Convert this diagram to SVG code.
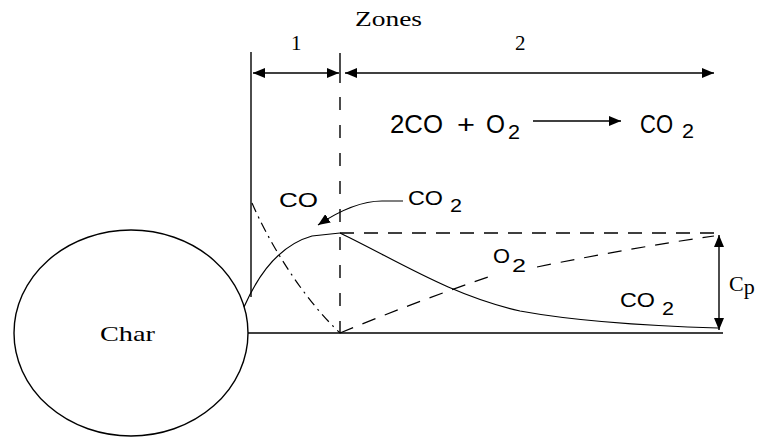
<svg xmlns="http://www.w3.org/2000/svg" width="761" height="437" viewBox="0 0 761 437">
<style>
.ln{fill:none;stroke:#000;stroke-width:1.4}
.cv{fill:none;stroke:#000;stroke-width:1.2}
.dsh{stroke-dasharray:14 10}
.serif{font-family:"Liberation Serif","Times New Roman",serif;fill:#000}
.sans{font-family:"Liberation Sans",Arial,sans-serif;fill:#000}
</style>
<defs>
<marker id="ah" viewBox="0 0 12 10" refX="12" refY="5" markerWidth="12" markerHeight="10" markerUnits="userSpaceOnUse" orient="auto-start-reverse">
<path d="M0,0 L12,5 L0,10 Z" fill="#000"/>
</marker>
</defs>
<rect width="761" height="437" fill="#fff"/>

<g id="char">
<ellipse cx="131" cy="333" rx="117" ry="103" class="ln"/>
<text class="serif" x="100" y="341" font-size="22" textLength="55" lengthAdjust="spacingAndGlyphs">Char</text>
</g>

<g id="zones">
<text class="serif" x="355" y="26" font-size="21" textLength="67" lengthAdjust="spacingAndGlyphs">Zones</text>
<text class="serif" x="291" y="50" font-size="21">1</text>
<text class="serif" x="515" y="50" font-size="21">2</text>
</g>

<g id="reaction">
<text class="sans" x="390" y="133" font-size="25" textLength="53" lengthAdjust="spacingAndGlyphs">2CO</text>
<text class="sans" x="457" y="133" font-size="25" textLength="18" lengthAdjust="spacingAndGlyphs">+</text>
<text class="sans" x="486" y="133" font-size="25" textLength="19" lengthAdjust="spacingAndGlyphs">O</text>
<text class="sans" x="508" y="139" font-size="20" textLength="12" lengthAdjust="spacingAndGlyphs">2</text>
<text class="sans" x="640" y="133" font-size="25" textLength="33" lengthAdjust="spacingAndGlyphs">CO</text>
<text class="sans" x="682" y="138" font-size="20" textLength="12" lengthAdjust="spacingAndGlyphs">2</text>
</g>

<g id="labels">
<text class="sans" x="279" y="207" font-size="21" textLength="39" lengthAdjust="spacingAndGlyphs">CO</text>
<text class="sans" x="408" y="205" font-size="21" textLength="35" lengthAdjust="spacingAndGlyphs">CO</text>
<text class="sans" x="450" y="212" font-size="19" textLength="12" lengthAdjust="spacingAndGlyphs">2</text>
<text class="sans" x="493" y="263" font-size="21" textLength="17" lengthAdjust="spacingAndGlyphs">O</text>
<text class="sans" x="512" y="272" font-size="19" textLength="14" lengthAdjust="spacingAndGlyphs">2</text>
<text class="sans" x="620" y="307" font-size="21" textLength="35" lengthAdjust="spacingAndGlyphs">CO</text>
<text class="sans" x="662" y="315" font-size="19" textLength="12" lengthAdjust="spacingAndGlyphs">2</text>
<text class="serif" x="729" y="291" font-size="22">C<tspan dy="3">p</tspan></text>
</g>

<g id="connectors">
<!-- frame lines -->
<path class="ln" d="M251,52 L251,297"/>
<path class="ln" d="M340,53 L340,83"/>
<path class="ln" d="M340,97 L340,333" style="stroke-dasharray:13 15"/>
<path class="ln" d="M248,333 L723,333"/>
<path class="ln dsh" d="M340,233 L720,233"/>
<!-- zone arrows -->
<path class="ln" d="M253,73 L339,73" marker-start="url(#ah)" marker-end="url(#ah)"/>
<path class="ln" d="M345,73 L714,73" marker-start="url(#ah)" marker-end="url(#ah)"/>
<!-- reaction arrow -->
<path class="ln" d="M533,121 L621,121" marker-end="url(#ah)"/>
<!-- Cp arrow -->
<path class="ln" d="M719,235 L719,330" marker-start="url(#ah)" marker-end="url(#ah)"/>
<!-- CO rising curve -->
<path class="cv" d="M244,307 C258,275 280,245 312,236 L340,233"/>
<!-- CO falling curve (dash-dot) -->
<path class="cv" d="M252,203 C268,240 300,295 340,333" style="stroke-dasharray:10 5 2 5"/>
<!-- O2 rising curve (dashed) -->
<path class="cv dsh" d="M340,333 Q415,302 488,277"/>
<path class="cv dsh" d="M537,267 Q630,248 714,236"/>
<!-- CO2 falling curve -->
<path class="cv" d="M340,233 C400,262 450,295 520,311 C580,322 650,326 718,328"/>
<!-- CO2 label pointer -->
<path class="cv" d="M403,201 L382,201 C362,201 342,209 318,225" marker-end="url(#ah)"/>
</g>
</svg>
